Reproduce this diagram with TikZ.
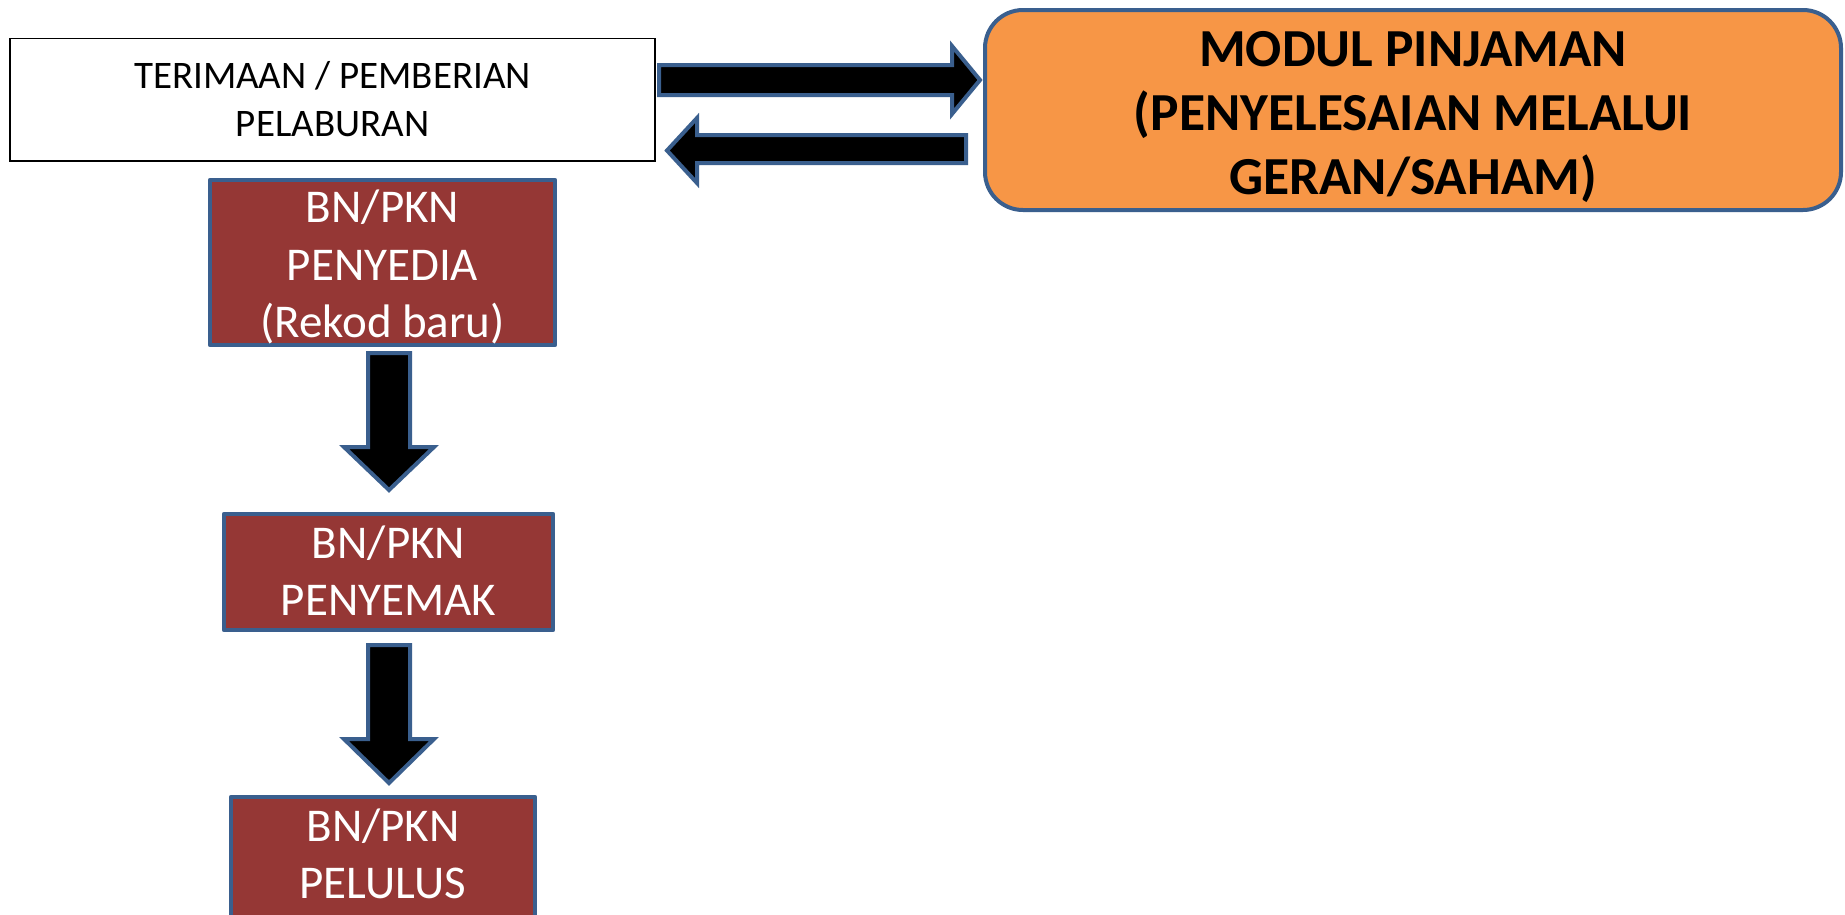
\documentclass[tikz,border=0pt]{standalone}
\usepackage{fontspec}
\setmainfont{Carlito}
\definecolor{brn}{HTML}{953735}
\definecolor{bord}{HTML}{3A5F8E}
\definecolor{org}{HTML}{F79646}
\begin{document}
\begin{tikzpicture}[x=1pt,y=-1pt,
  frame/.style={draw=black,line width=1.5pt,fill=white,inner sep=0pt},
  frametext/.style={inner sep=0pt,align=center,font=\fontsize{39}{48}\selectfont},
  stage/.style={draw=bord,line width=4.5pt,fill=brn,inner sep=0pt,line join=round},
  stagetext/.style={text=white,inner sep=0pt,align=center,font=\fontsize{47}{57.5}\selectfont},
  modul/.style={draw=bord,line width=4pt,fill=org,rounded corners=38pt,inner sep=0pt},
  modultext/.style={inner sep=0pt,align=center,font=\fontsize{53.5}{64}\selectfont\bfseries},
  blockarrow/.style={draw=bord,line width=4pt,fill=black,line join=miter}]
\useasboundingbox (0,0) rectangle (1845,914);
\clip (0,0) rectangle (1845,914);
\fill[white] (0,0) rectangle (1845,914);

\node[frame,minimum width=645pt,minimum height=122.5pt] (terima) at (332.5,99.5) {};
\node[frametext] (terima-t) at (terima.center) {TERIMAAN / PEMBERIAN\\PELABURAN};

\node[modul,minimum width=856pt,minimum height=200pt] (modul) at (1413,110) {};
\node[modultext,yshift=-7pt] (modul-t) at (modul.center) {MODUL PINJAMAN\\(PENYELESAIAN MELALUI\\GERAN/SAHAM)};

\node[stage,minimum width=345pt,minimum height=165pt] (penyedia) at (382.5,262.5) {};
\node[stagetext,yshift=-4.5pt] (penyedia-t) at (penyedia.center) {BN/PKN\\PENYEDIA\\(Rekod baru)};

\node[stage,minimum width=329pt,minimum height=116pt] (penyemak) at (388.5,572) {};
\node[stagetext,yshift=1.5pt] (penyemak-t) at (penyemak.center) {BN/PKN\\PENYEMAK};

\node[stage,minimum width=304pt,minimum height=120pt] (pelulus) at (383,857) {};
\node[stagetext,yshift=3pt] (pelulus-t) at (pelulus.center) {BN/PKN\\PELULUS};

% block arrows
\draw[blockarrow] (659,65) -- (952,65) -- (952,46) -- (980,80) -- (952,114) -- (952,95) -- (659,95) -- cycle;
\draw[blockarrow] (966,135) -- (697,135) -- (697,118) -- (667,150.5) -- (697,183) -- (697,163) -- (966,163) -- cycle;
\draw[blockarrow] (368,353) -- (368,447) -- (344,447) -- (389,490) -- (434,447) -- (410,447) -- (410,353) -- cycle;
\draw[blockarrow] (368,645) -- (368,739) -- (344,739) -- (389,783) -- (434,739) -- (410,739) -- (410,645) -- cycle;
\end{tikzpicture}
\end{document}
